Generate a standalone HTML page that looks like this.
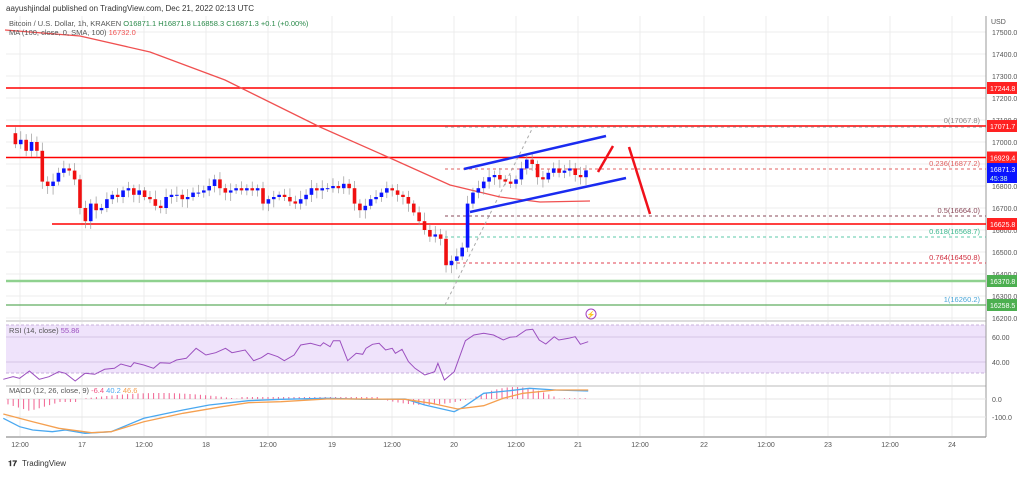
<!DOCTYPE html>
<html><head><meta charset="utf-8"><style>
body{margin:0;background:#fff;width:1024px;height:472px;overflow:hidden;font-family:"Liberation Sans",sans-serif}
svg text{font-family:"Liberation Sans",sans-serif}
</style></head><body>
<svg id="s" width="1024" height="472" viewBox="0 0 1024 472" xmlns="http://www.w3.org/2000/svg">
<rect width="1024" height="472" fill="#fff"/>
<text x="6" y="11" font-size="8" fill="#333">aayushjindal published on TradingView.com, Dec 21, 2022 02:13 UTC</text>
<g id="grid" stroke="#ececec" stroke-width="1"></g>
<rect x="6" y="325" width="980" height="48" fill="#efe3fb"/>
<line x1="6" y1="325" x2="986" y2="325" stroke="#c9b0dc" stroke-dasharray="3,2"/>
<line x1="6" y1="373" x2="986" y2="373" stroke="#c9b0dc" stroke-dasharray="3,2"/>
<line x1="6" y1="337" x2="986" y2="337" stroke="#d6c4e6"/>
<line x1="6" y1="362" x2="986" y2="362" stroke="#d6c4e6"/>
<line x1="6" y1="321" x2="986" y2="321" stroke="#ddd" stroke-width="2"/>
<line x1="6" y1="386" x2="986" y2="386" stroke="#ddd" stroke-width="2"/>
<line x1="6" y1="437" x2="986" y2="437" stroke="#bbb" stroke-width="2"/>
<line x1="986" y1="16" x2="986" y2="437" stroke="#999"/>
<line x1="6" y1="399" x2="986" y2="399" stroke="#e4e4e4"/>
<line x1="6" y1="417" x2="986" y2="417" stroke="#e4e4e4"/>
<line x1="6" y1="88" x2="986" y2="88" stroke="#f00" stroke-width="1.5"/>
<line x1="6" y1="126" x2="986" y2="126" stroke="#f00" stroke-width="1.5"/>
<line x1="6" y1="157.5" x2="986" y2="157.5" stroke="#f00" stroke-width="1.5"/>
<line x1="52" y1="224" x2="986" y2="224" stroke="#f00" stroke-width="1.5"/>
<line x1="6" y1="281" x2="986" y2="281" stroke="#8fd18f" stroke-width="2.5"/>
<line x1="6" y1="305" x2="986" y2="305" stroke="#3a9a3a" stroke-width="1"/>
<g stroke-dasharray="3,3" stroke-width="1">
<line x1="445" y1="127" x2="986" y2="127" stroke="#999"/>
<line x1="445" y1="169" x2="986" y2="169" stroke="#e06060"/>
<line x1="445" y1="216" x2="986" y2="216" stroke="#8a4a5a"/>
<line x1="445" y1="237" x2="986" y2="237" stroke="#5cc9a8"/>
<line x1="445" y1="263" x2="986" y2="263" stroke="#e04050"/>
<line x1="445" y1="305" x2="533" y2="127" stroke="#aaa"/>
</g>
<g font-size="7.5" text-anchor="end">
<text x="980" y="123" fill="#888">0(17067.8)</text>
<text x="980" y="166" fill="#e06060">0.236(16877.2)</text>
<text x="980" y="213" fill="#8a4a5a">0.5(16664.0)</text>
<text x="980" y="234" fill="#3cb98f">0.618(16568.7)</text>
<text x="980" y="260" fill="#d03040">0.764(16450.8)</text>
<text x="980" y="302" fill="#4aa6d8">1(16260.2)</text>
</g>
<polyline fill="none" stroke="#f05050" stroke-width="1.3" points="5,30 80,36 150,52 225,80 320,127 390,158 450,185 500,197 540,202 590,201"/>
<g id="candles"></g>
<line x1="464" y1="169" x2="606" y2="136" stroke="#1a2bf0" stroke-width="2.5"/>
<line x1="470" y1="212" x2="626" y2="178" stroke="#1a2bf0" stroke-width="2.5"/>
<line x1="598" y1="172" x2="613" y2="146" stroke="#f0101a" stroke-width="2.5"/>
<line x1="629" y1="147" x2="650" y2="214" stroke="#f0101a" stroke-width="2.5"/>
<circle cx="591" cy="314" r="5" fill="none" stroke="#a040c0" stroke-width="1"/>
<text x="591" y="317" font-size="7" fill="#a040c0" text-anchor="middle">⚡</text>
<polyline id="rsi" fill="none" stroke="#9b4fbf" stroke-width="1"/>
<g id="hist"></g>
<polyline id="mb" fill="none" stroke="#4aa8f0" stroke-width="1.3"/>
<polyline id="mo" fill="none" stroke="#f5a050" stroke-width="1.3"/>
<g font-size="7.5" fill="#555">
<text x="9" y="26">Bitcoin / U.S. Dollar, 1h, KRAKEN <tspan fill="#2a8a4a">O16871.1  H16871.8  L16858.3  C16871.3  +0.1 (+0.00%)</tspan></text>
<text x="9" y="35">MA (100, close, 0, SMA, 100) <tspan fill="#f05050">16732.0</tspan></text>
<text x="9" y="333">RSI (14, close) <tspan fill="#9b4fbf">55.86</tspan></text>
<text x="9" y="393">MACD (12, 26, close, 9) <tspan fill="#f05080">-6.4</tspan> <tspan fill="#4aa8f0">40.2</tspan> <tspan fill="#f5a050">46.6</tspan></text>
</g>
<g id="axis" font-size="7" fill="#555"></g>
<text x="8" y="466" font-size="8" fill="#333" font-weight="bold">𝟏𝟕</text>
<text x="22" y="466" font-size="8" fill="#333">TradingView</text>
</svg>
<script>
var NS="http://www.w3.org/2000/svg";
function el(p,t,a,txt){var e=document.createElementNS(NS,t);for(var k in a)e.setAttribute(k,a[k]);if(txt!=null)e.textContent=txt;document.getElementById(p).appendChild(e);return e;}
function Y(p){return 32+(17500-p)*0.22;}
var tx=[20,82,144,206,268,332,392,454,516,578,640,704,766,828,890,952];
var tl=["12:00","17","12:00","18","12:00","19","12:00","20","12:00","21","12:00","22","12:00","23","12:00","24"];
tx.forEach(function(x,i){el("grid","line",{x1:x,y1:16,x2:x,y2:437});el("axis","text",{x:x,y:447,"text-anchor":"middle"},tl[i]);});
for(var p=16200;p<=17500;p+=100){var y=Y(p);el("grid","line",{x1:6,y1:y,x2:986,y2:y});el("axis","text",{x:992,y:y+3},p.toFixed(1));}
el("axis","text",{x:991,y:24},"USD");
el("axis","text",{x:992,y:340},"60.00");el("axis","text",{x:992,y:365},"40.00");
el("axis","text",{x:992,y:402},"0.0");el("axis","text",{x:992,y:420},"-100.0");
var boxes=[[88,"17244.8","#f22"],[126,"17071.7","#f22"],[157.5,"16929.4","#f22"],[224,"16625.8","#f22"],[281,"16370.8","#4caf50"],[305,"16258.5","#4caf50"]];
boxes.forEach(function(b){el("axis","rect",{x:987,y:b[0]-6,width:30,height:12,fill:b[2]});el("axis","text",{x:990,y:b[0]+3,fill:"#fff"},b[1]);});
el("axis","rect",{x:987,y:163,width:30,height:20,fill:"#0a14ff"});
el("axis","text",{x:990,y:172,fill:"#fff"},"16871.3");el("axis","text",{x:990,y:181,fill:"#cfd"},"45:38");
var c=[17040,16990,17010,16960,17000,16960,16820,16800,16820,16860,16880,16870,16830,16700,16640,16720,16690,16700,16740,16760,16750,16780,16790,16760,16780,16750,16740,16710,16700,16750,16760,16760,16740,16750,16770,16770,16780,16800,16830,16790,16770,16780,16790,16780,16790,16780,16790,16720,16740,16750,16760,16750,16730,16720,16740,16760,16790,16780,16790,16790,16800,16790,16810,16790,16720,16690,16710,16740,16750,16770,16790,16780,16760,16750,16720,16680,16640,16600,16570,16580,16560,16440,16460,16480,16520,16720,16770,16790,16820,16840,16850,16830,16820,16810,16830,16880,16920,16900,16840,16830,16860,16880,16860,16870,16880,16850,16840,16871];
var sp=(586-10)/(c.length-1);
for(var i=1;i<c.length;i++){var o=c[i-1],cl=c[i],x=10+i*sp;var up=cl>=o;var col=up?"#0a14ff":"#f01010";
var hi=Math.max(o,cl)+15+((i*37)%25),lo=Math.min(o,cl)-15-((i*53)%25);
el("candles","line",{x1:x,y1:Y(hi),x2:x,y2:Y(lo),stroke:"#999","stroke-width":0.7});
var y1=Y(Math.max(o,cl)),h=Math.max(1,Y(Math.min(o,cl))-y1);
el("candles","rect",{x:x-1.8,y:y1,width:3.6,height:h,fill:col});}
function pts(a){return a.map(function(p){return (p[0]/1.53).toFixed(1)+","+(p[1]/3+310).toFixed(1)}).join(" ");}
document.getElementById("rsi").setAttribute("points",pts([[5,208],[20,200],[30,205],[45,183],[60,208],[75,200],[90,185],[100,190],[115,213],[130,190],[145,193],[160,178],[175,175],[185,162],[200,170],[205,158],[220,165],[235,175],[245,158],[260,160],[270,150],[285,145],[300,115],[315,135],[330,128],[345,115],[355,128],[375,120],[388,152],[400,143],[410,130],[425,140],[435,152],[450,135],[460,105],[475,100],[490,108],[495,98],[505,110],[510,92],[520,92],[532,152],[545,130],[555,133],[560,115],[570,103],[580,100],[590,120],[600,115],[605,130],[615,118],[625,155],[635,175],[650,195],[665,185],[670,160],[680,210],[695,185],[712,92],[725,75],[740,70],[755,75],[770,90],[780,82],[790,80],[805,60],[815,58],[825,90],[835,102],[848,80],[855,90],[870,85],[880,80],[888,103],[900,95]]));
document.getElementById("mb").setAttribute("points",pts([[5,325],[30,350],[50,360],[80,365],[100,360],[130,370],[170,365],[220,325],[280,300],[320,285],[380,272],[430,268],[500,265],[560,268],[620,267],[650,285],[695,305],[710,290],[740,250],[780,242],[810,235],[850,240],[900,243]]));
document.getElementById("mo").setAttribute("points",pts([[5,312],[50,335],[90,355],[140,368],[170,365],[220,335],[280,310],[340,290],[380,278],[430,275],[500,267],[560,267],[620,268],[660,280],[700,297],[740,287],[770,265],[800,250],[850,240],[900,240]]));
for(var x=8;x<590;x+=5.2){var v;
if(x<60)v=-(12-Math.abs(x-30)*0.3);else if(x<80)v=-3;else if(x<240)v=6*Math.sin((x-80)/160*Math.PI);else if(x<380)v=2;else if(x<470)v=-6*Math.sin((x-380)/90*Math.PI);else if(x<560)v=12*Math.sin((x-470)/90*Math.PI);else v=0.8;
el("hist","line",{x1:x,y1:399,x2:x,y2:399-v,stroke:"#f06090","stroke-width":1});}
</script>
</body></html>
